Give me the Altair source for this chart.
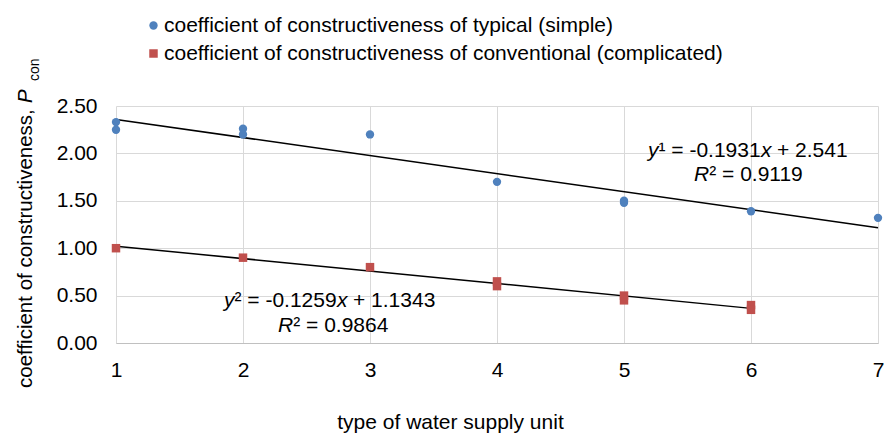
import altair as alt
import pandas as pd

# ---- data ----
typical_x = [1, 1, 2, 2, 3, 4, 5, 5, 6, 7]
typical_y = [2.33, 2.25, 2.26, 2.20, 2.20, 1.70, 1.50, 1.48, 1.39, 1.32]
conv_x = [1, 2, 3, 4, 4, 5, 5, 6, 6]
conv_y = [1.00, 0.90, 0.80, 0.65, 0.60, 0.50, 0.45, 0.40, 0.35]
series_names = [
    "coefficient of constructiveness of typical (simple)",
    "coefficient of constructiveness of conventional (complicated)",
]
series_colors = ["#4f81bd", "#c0504d"]
x_ticks = [1, 2, 3, 4, 5, 6, 7]
y_ticks = [0, 0.5, 1.0, 1.5, 2.0, 2.5]
NB = "\u00a0"
eq1_parts = ["y", "\u00b9" + NB + "=" + NB + "-0.1931", "x", "+" + NB + "2.541"]
r1_parts = ["R", "\u00b2" + NB + "=" + NB + "0.9119"]
eq2_parts = ["y", "\u00b2" + NB + "=" + NB + "-0.1259", "x", "+" + NB + "1.1343"]
r2_parts = ["R", "\u00b2" + NB + "=" + NB + "0.9864"]
y_title_parts = ["coefficient of constructiveness,", "P", "con"]
x_title = "type of water supply unit"

FONT = "Liberation Sans"
FS = 21

df = pd.DataFrame({
    "x": typical_x + conv_x,
    "y": typical_y + conv_y,
    "series": [series_names[0]] * len(typical_x) + [series_names[1]] * len(conv_x),
})

base = alt.Chart(df)

legend_kw = dict(title=None, orient="none", legendX=27, legendY=-91,
                 direction="vertical", labelFontSize=FS, labelColor="black",
                 symbolSize=40, labelOffset=0, rowPadding=6, padding=0,
                 labelLimit=800)

points = base.mark_point(filled=True, opacity=1).encode(
    x=alt.X("x:Q", scale=alt.Scale(domain=[1, 7], nice=False),
            axis=alt.Axis(values=x_ticks, title=x_title, titleX=334, titleY=85,
                          titleAlign="center", titleBaseline="alphabetic",
                          titleFontSize=FS, titleFontWeight="normal", titleColor="black",
                          labelFontSize=FS, labelColor="black", labelPadding=16,
                          ticks=False, tickSize=0, domainColor="#c0c0c0",
                          gridColor="#d9d9d9", labelFlush=False, format="d")),
    y=alt.Y("y:Q", scale=alt.Scale(domain=[0, 2.5], nice=False),
            axis=alt.Axis(values=y_ticks, title=None, format=".2f",
                          labelFontSize=FS, labelColor="black", labelPadding=19,
                          ticks=False, tickSize=0, domain=False,
                          gridColor="#d9d9d9")),
    color=alt.Color("series:N", scale=alt.Scale(domain=series_names, range=series_colors),
                    legend=alt.Legend(**legend_kw)),
    shape=alt.Shape("series:N", scale=alt.Scale(domain=series_names, range=["circle", "square"]),
                    legend=alt.Legend(**legend_kw)),
    size=alt.Size("series:N", scale=alt.Scale(domain=series_names, range=[70, 72]), legend=None),
)

line1 = base.transform_filter(alt.datum.series == series_names[0]).transform_regression(
    "x", "y", method="linear", extent=[1, 7]
).mark_line(color="black", strokeWidth=1.5).encode(x="x:Q", y="y:Q")

line2 = base.transform_filter(alt.datum.series == series_names[1]).transform_regression(
    "x", "y", method="linear", extent=[1, 6]
).mark_line(color="black", strokeWidth=1.5).encode(x="x:Q", y="y:Q")


def piece(text, px, py, italic=False, size=FS, angle=0):
    kw = dict(align="left", baseline="alphabetic", fontSize=size, font=FONT, color="black")
    if italic:
        kw["fontStyle"] = "italic"
    if angle:
        kw["angle"] = angle
    return alt.Chart(pd.DataFrame({"label": [text]})).mark_text(**kw).encode(
        x=alt.value(px), y=alt.value(py), text="label:N"
    )


texts = [
    piece(eq1_parts[0], 532, 51, True),
    piece(eq1_parts[1], 542.5, 51),
    piece(eq1_parts[2], 645, 51, True),
    piece(eq1_parts[3], 661, 51),
    piece(r1_parts[0], 578, 75, True),
    piece(r1_parts[1], 593.2, 75),
    piece(eq2_parts[0], 108, 201, True),
    piece(eq2_parts[1], 118.5, 201),
    piece(eq2_parts[2], 221, 201, True),
    piece(eq2_parts[3], 237, 201),
    piece(r2_parts[0], 162, 226, True),
    piece(r2_parts[1], 177.2, 226),
    piece(y_title_parts[0], -84, 282, False, 20.5, 270),
    piece(y_title_parts[1], -84, -3, True, 20.5, 270),
    piece(y_title_parts[2], -77, -25, False, 14, 270),
]

chart = alt.layer(line1, line2, points, *texts).properties(
    width=762, height=237,
    padding={"left": 108, "top": 98, "right": 6, "bottom": 92},
    autosize=alt.AutoSizeParams(type="none"),
).configure(font=FONT).configure_view(strokeWidth=0)

chart.save("out.html", embed_options={"renderer": "svg", "actions": False})
